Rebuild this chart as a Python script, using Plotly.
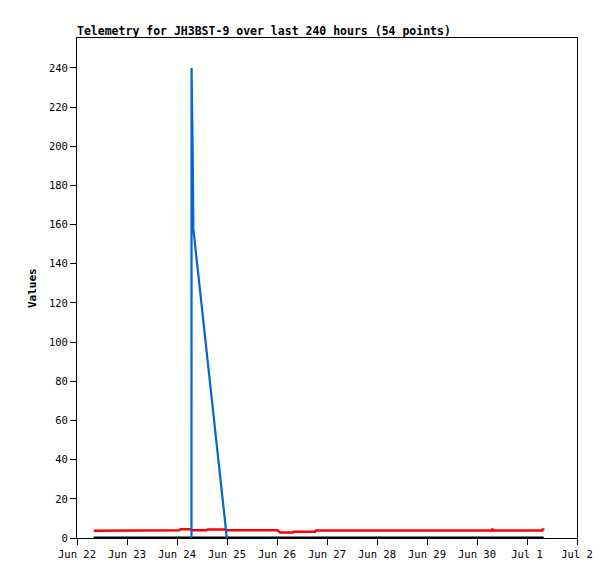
import plotly.graph_objects as go

# ---- data ----
black_t = ["2024-06-22 08:00", "2024-06-26 00:00", "2024-06-29 00:00", "2024-07-01 08:00"]
black_v = [0, 0, 0, 0]

red_t = ["2024-06-22 08:00", "2024-06-23 16:00", "2024-06-23 16:30", "2024-06-24 01:00",
         "2024-06-24 01:40", "2024-06-24 06:40", "2024-06-24 07:10", "2024-06-24 14:00",
         "2024-06-24 14:40", "2024-06-24 23:00", "2024-06-24 23:40", "2024-06-26 00:20",
         "2024-06-26 01:30", "2024-06-26 07:40", "2024-06-26 08:00", "2024-06-26 18:20",
         "2024-06-26 18:40", "2024-06-30 07:00", "2024-06-30 07:20", "2024-06-30 07:40",
         "2024-07-01 07:20", "2024-07-01 07:40", "2024-07-01 08:00"]
red_v = [3.7, 3.7, 4.0, 4.0,
         4.5, 4.5, 3.9, 3.9,
         4.4, 4.4, 3.9, 3.9,
         2.8, 2.8, 3.2, 3.2,
         3.8, 3.8, 4.7, 3.8,
         3.8, 4.7, 3.8]

blue_t = ["2024-06-24 06:58", "2024-06-24 07:00", "2024-06-24 07:35", "2024-06-24 07:50", "2024-06-24 23:55"]
blue_v = [0, 240, 192, 158, 0]

y_ticks = [0, 20, 40, 60, 80, 100, 120, 140, 160, 180, 200, 220, 240]
x_range = ["2024-06-22 00:00", "2024-07-02 00:00"]
title_text = "Telemetry for JH3BST-9 over last 240 hours (54 points)"
y_title = "Values"

FONT = "DejaVu Sans Mono"
OFF = 8  # page body margin offset

fig = go.Figure()
fig.add_trace(go.Scatter(x=black_t, y=black_v, mode="lines",
                         line=dict(color="#000000", width=3), showlegend=False))
fig.add_trace(go.Scatter(x=red_t, y=red_v, mode="lines",
                         line=dict(color="#ff0000", width=2.5), showlegend=False))
fig.add_trace(go.Scatter(x=blue_t, y=blue_v, mode="lines",
                         line=dict(color="#0066cc", width=2.2), showlegend=False))

fig.update_layout(
    width=615, height=579,
    margin=dict(l=77 - OFF, r=38 + OFF, t=38 - OFF, b=41 + OFF),
    paper_bgcolor="white", plot_bgcolor="white",
    font=dict(family=FONT, size=10, color="black"),
    title=dict(text="<b>" + title_text + "</b>", x=(77 - OFF) / 615, xanchor="left",
               xref="container", y=1 - (31 - OFF) / 579, yanchor="middle", yref="container",
               font=dict(family=FONT, size=11.5, color="black")),
    showlegend=False,
)
fig.update_xaxes(
    type="date", range=x_range, dtick=86400000, tick0="2024-06-22",
    tickformat="%b %-d", showgrid=False, zeroline=False,
    showline=True, linecolor="black", linewidth=1, mirror=True,
    ticks="outside", ticklen=6, tickcolor="black", tickwidth=1,
    tickfont=dict(family=FONT, size=10.5, color="black"),
)
fig.update_yaxes(
    range=[0, 255.3], tickmode="array", tickvals=y_ticks,
    showgrid=False, zeroline=False,
    showline=True, linecolor="black", linewidth=1, mirror=True,
    ticks="outside", ticklen=6, tickcolor="black", tickwidth=1,
    tickfont=dict(family=FONT, size=10.5, color="black"),
)
fig.add_annotation(text="<b>" + y_title + "</b>", textangle=-90,
                   xref="paper", yref="paper", x=(32 - 77) / 500, y=0.5,
                   xanchor="center", yanchor="middle", showarrow=False,
                   font=dict(family=FONT, size=11, color="black"))

fig.write_html("out.html")
